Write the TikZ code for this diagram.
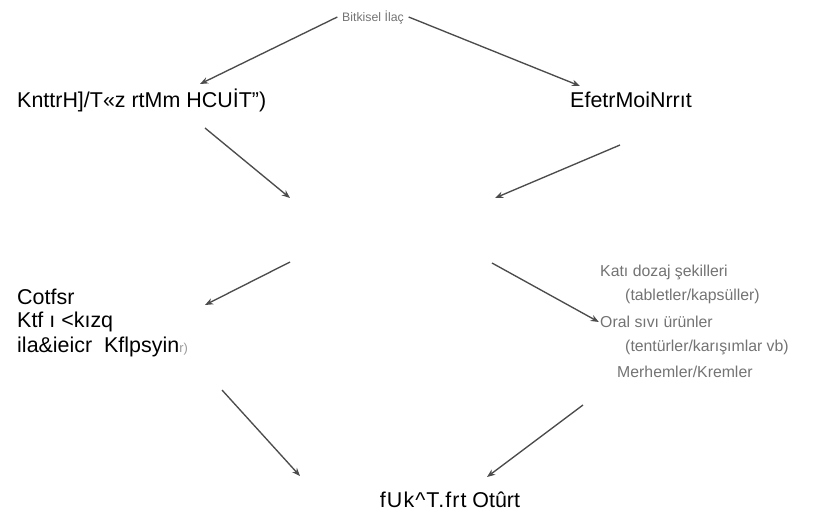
\documentclass[tikz,border=0pt]{standalone}
\usepackage{fontspec}
\setmainfont{Liberation Sans}
\usepackage{xcolor}
\usepackage{tikz}
\usetikzlibrary{arrows.meta,positioning}

\begin{document}
\begin{tikzpicture}[
  x=0.03cm, y=-0.03cm,
  siyah/.style={inner sep=0pt, anchor=west, font=\fontsize{18.3}{22}\selectfont, text=black},
  gri/.style={inner sep=0pt, anchor=west, font=\fontsize{13.5}{16}\selectfont, text=black!55},
  ok/.style={->, draw=black!70, line width=1.15pt},
  >={Stealth[length=7pt,width=5.5pt]}
]
  \useasboundingbox (0,0) rectangle (823,525);

  % top
  \node[gri, anchor=center, font=\fontsize{10.5}{12}\selectfont] (bitki) at (373,17) {Bitkisel İlaç};

  % second row
  \node[siyah] (kultur) at (17,100) {KnttrH]/T«z rtMm HCUİT")};
  \node[siyah] (efet) at (570,100) {EfetrMoiNrrıt};

  % left column
  \node[siyah] (cot) at (17,297) {Cotfsr};
  \node[siyah] (ktf) at (17,322) {Ktf ı <kızq};
  \node[siyah] (ila) at (17,347) {ila\&ieicr\ \ Kflpsyin{\color{black!40}\fontsize{11}{12}\selectfont r)}};

  % right column (dosage forms)
  \node[gri] (kati) at (600,272) {Katı dozaj şekilleri};
  \node[gri] (tablet) at (625,296) {(tabletler/kapsüller)};
  \node[gri] (oral) at (600,322) {Oral sıvı ürünler};
  \node[gri] (tentur) at (625,347) {(tentürler/karışımlar vb)};
  \node[gri] (merhem) at (617,372) {Merhemler/Kremler};

  % bottom
  \node[siyah, anchor=center] (sonuc) at (450,500) {{\addfontfeature{LetterSpace=5}fUk\^{}T.frt}\ Otûrt};

  % arrow ends
  \coordinate (k1) at (200,84);
  \coordinate (e1) at (580,86);
  \coordinate (k2) at (205,128);
  \coordinate (e2) at (620,145);
  \coordinate (orta1) at (290,198);
  \coordinate (orta2) at (495,198);
  \coordinate (orta3) at (290,262);
  \coordinate (orta4) at (492,263);
  \coordinate (c1) at (205,305);
  \coordinate (c2) at (222,390);
  \coordinate (m1) at (583,405);
  \coordinate (s1) at (300,476);
  \coordinate (s2) at (487,477);

  % upper half
  \draw[ok] ([xshift=-4pt]bitki.west) -- (k1);
  \draw[ok] ([xshift=4pt]bitki.east) -- (e1);
  \draw[ok] (k2) -- (orta1);
  \draw[ok] (e2) -- (orta2);

  % lower half
  \draw[ok] (orta3) -- (c1);
  \draw[ok] (orta4) -- ([xshift=-1pt]oral.west);
  \draw[ok] (c2) -- (s1);
  \draw[ok] (m1) -- (s2);
\end{tikzpicture}
\end{document}
